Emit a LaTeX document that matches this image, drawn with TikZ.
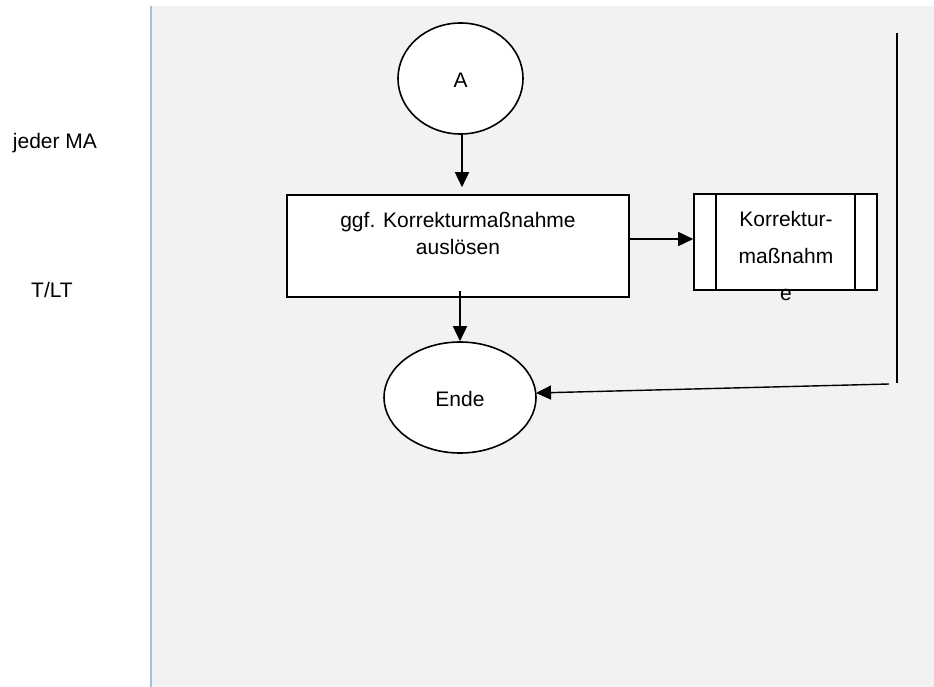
\documentclass[tikz,border=0pt]{standalone}
\usepackage{fontspec}
\setmainfont{Liberation Sans}
\usetikzlibrary{shapes.geometric,arrows.meta}
\definecolor{lanegray}{HTML}{F2F2F2}
\definecolor{laneblue}{HTML}{9DC3E6}
\begin{document}
\begin{tikzpicture}[x=1pt,y=-1pt,
  every node/.style={font=\fontsize{21}{27}\selectfont, inner sep=0pt},
  shape line/.style={draw=black, line width=1.6pt, fill=white},
  terminal/.style={shape line, ellipse},
  taskbox/.style={shape line, rectangle},
  flow/.style={line width=1.6pt, -{Triangle[length=15pt,width=14pt]}},
  plain line/.style={line width=1.6pt}]
  % page and swimlane background
  \useasboundingbox (0,0) rectangle (934,687);
  \fill[white] (0,0) rectangle (934,687);
  \fill[lanegray] (152,6) rectangle (934,687);
  \draw[laneblue, line width=2pt] (151,6) -- (151,687);

  % role labels
  \node (roleMA) at (55,143) {jeder MA};
  \node (roleLT) at (52,290) {T/LT};

  % start connector
  \node[terminal, minimum width=125pt, minimum height=111pt] (A) at (460.5,78.5) {};
  \node (Atext) at (460.5,80) {A};

  % task
  \node[taskbox, minimum width=342pt, minimum height=102pt] (task) at (458,246) {};
  \node[align=center, anchor=north] (tasktext) at (458,212)
    {ggf. Korrekturmaßnahme\\auslösen};

  % predefined process
  \node[taskbox, minimum width=183pt, minimum height=96pt] (sub) at (785.5,242) {};
  \draw[plain line] ([xshift=23pt]sub.north west) -- ([xshift=23pt]sub.south west);
  \draw[plain line] ([xshift=-23pt]sub.north east) -- ([xshift=-23pt]sub.south east);
  \node[align=center, font=\fontsize{21}{37}\selectfont, anchor=north] (subtext) at (786,211)
    {Korrektur-\\maßnahm\\e};

  % end terminal
  \node[terminal, minimum width=152pt, minimum height=111pt] (ende) at (460,397.5) {};
  \node (endetext) at (460,399) {Ende};

  % return line on the right
  \coordinate (railtop) at (897,33);
  \coordinate (railbot) at (897,383);
  \coordinate (back) at (889,384);
  \draw[plain line] (railtop) -- (railbot);

  % connectors
  \draw[flow, shorten >=7pt] (A.south -| 462,0) -- (task.north -| 462,0);
  \draw[flow] ([yshift=7pt]task.south -| ende.north) -- (ende.north);
  \draw[flow] ([yshift=7pt]task.east) -- ([yshift=3pt]sub.west);
  \draw[flow, line width=1.4pt] (back) -- (536,393);
\end{tikzpicture}
\end{document}
